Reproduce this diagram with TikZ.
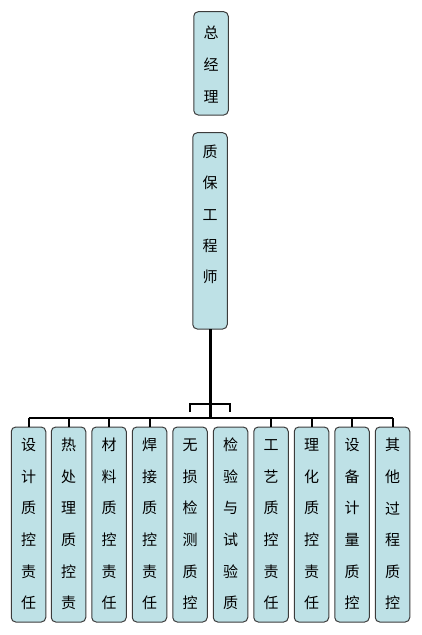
\documentclass[tikz,border=0pt]{standalone}
\usepackage{fontspec}
\newfontfamily\cjk{Noto Sans CJK SC}
\definecolor{boxfill}{RGB}{190,225,230}
\definecolor{boxline}{RGB}{60,60,60}
\tikzset{
  orgbox/.style={draw=boxline, line width=1pt, fill=boxfill, rounded corners=4.5pt,
    minimum width=34.5pt, inner sep=0pt, outer sep=0pt},
  ch/.style={font=\cjk\fontsize{15}{15}\selectfont, inner sep=0pt},
  conn/.style={line width=2pt, black},
  mainconn/.style={line width=3pt, black}
}
\begin{document}
\begin{tikzpicture}[x=1pt,y=-1pt]
\useasboundingbox (0,0) rectangle (421,635);
% top boxes
\node[orgbox, minimum height=103.3pt] (gm) at (211,63.35) {};
\foreach \c [count=\i] in {总,经,理}
  \node[ch] (gm\i) at ([yshift={-21.3pt-(\i-1)*32pt}]gm.north) {\c};
\node[orgbox, minimum height=196.3pt] (qe) at (210,230.85) {};
\foreach \c [count=\i] in {质,保,工,程,师}
  \node[ch] (qe\i) at ([yshift={-19.3pt-(\i-1)*31.3pt}]qe.north) {\c};
% bottom boxes
\foreach \x/\t [count=\n] in {28.5/{设,计,质,控,责,任},
                             68.5/{热,处,理,质,控,责},
                             109/{材,料,质,控,责,任},
                             149.5/{焊,接,质,控,责,任},
                             190/{无,损,检,测,质,控},
                             230.5/{检,验,与,试,验,质},
                             271/{工,艺,质,控,责,任},
                             311.5/{理,化,质,控,责,任},
                             352/{设,备,计,量,质,控},
                             392.5/{其,他,过,程,质,控}} {
  \node[orgbox, minimum height=195pt] (b\n) at (\x,524.5) {};
  \foreach \c [count=\i] in \t
    \node[ch] (b\n c\i) at ([yshift={-18pt-(\i-1)*31.6pt}]b\n.north) {\c};
}
% connectors
\coordinate (hl) at (28.5,418);
\coordinate (hr) at (392.5,418);
\coordinate (hm) at (210,418);
\draw[mainconn] (qe.south) -- (hm);
\draw[conn] (hl) -- (hr);
\foreach \n in {1,2,3,4,7,8,9,10}
  \draw[conn] (b\n.north |- hl) -- (b\n.north);
\coordinate (brl) at (190,412);
\coordinate (brr) at (230,412);
\draw[conn] (brl) -- (190,404) -- (230,404) -- (brr);
\end{tikzpicture}
\end{document}
